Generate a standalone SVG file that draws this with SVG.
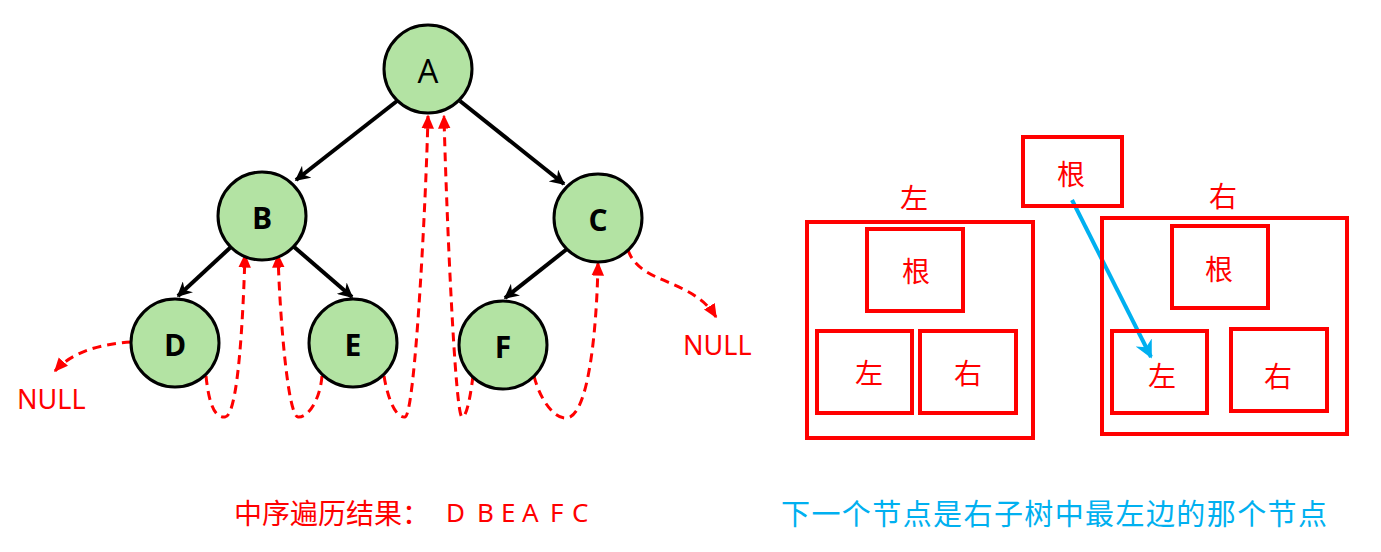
<svg xmlns="http://www.w3.org/2000/svg" width="1381" height="552" viewBox="0 0 1381 552">
<defs>
<marker id="ab" viewBox="0 0 10 10" refX="9" refY="5" markerWidth="15" markerHeight="15" markerUnits="userSpaceOnUse" orient="auto"><path d="M0,0 L10,5 L0,10 L3,5 Z" fill="#000"/></marker>
<marker id="ar" viewBox="0 0 10 10" refX="9" refY="5" markerWidth="14" markerHeight="14" markerUnits="userSpaceOnUse" orient="auto"><path d="M0,0.5 L10,5 L0,9.5 Z" fill="#ff0000"/></marker>
<marker id="abl" viewBox="0 0 10 10" refX="9" refY="5" markerWidth="18" markerHeight="18" markerUnits="userSpaceOnUse" orient="auto"><path d="M0,0 L10,5 L0,10 L3,5 Z" fill="#00b0f0"/></marker>
</defs>
<style>
.node circle{fill:#b3e3a3;stroke:#000;stroke-width:3}
.lt{font-family:"Open Sans","Noto Sans",sans-serif;font-size:30px;font-weight:bold;fill:#000;text-anchor:middle;dominant-baseline:central}
.e{fill:none;stroke:#000;stroke-width:4;marker-end:url(#ab)}
.d{fill:none;stroke:#ff0000;stroke-width:3;stroke-dasharray:9 6;marker-end:url(#ar)}
.box{fill:none;stroke:#ff0000;stroke-width:4}
.cj{font-family:"Noto Sans CJK SC",sans-serif;font-size:28px;fill:#ff0000;text-anchor:middle;dominant-baseline:central}
.nl{font-family:"Noto Sans",sans-serif;font-size:27px;fill:#ff0000}
</style>
<g id="connectors">
<path class="e" d="M397,101 L296,180"/>
<path class="e" d="M460,101 L564,184"/>
<path class="e" d="M232,246 L178,296"/>
<path class="e" d="M293,246 L352,297"/>
<path class="e" d="M567,249 L505,298"/>
<path class="d" d="M131,342 C100,344 72,352 55,371"/>
<path class="d" d="M206,376 C209,405 215,418 225,417 C238,416 243,320 245,255"/>
<path class="d" d="M322,376 C320,400 308,418 298,417 C288,416 280,320 278,255"/>
<path class="d" d="M384,376 C388,400 396,418 405,417 C415,416 426,200 428,116"/>
<path class="d" d="M473,376 C470,400 466,418 462,417 C455,416 446,200 444,116"/>
<path class="d" d="M534,376 C540,400 555,420 567,418 C590,415 597,320 598,263"/>
<path class="d" d="M628,250 C640,285 692,278 716,317"/>
<path fill="none" stroke="#00b0f0" stroke-width="4" marker-end="url(#abl)" d="M1072,200 L1151,357"/>
</g>
<g id="node-A" class="node"><circle cx="428" cy="69" r="44"/><text class="lt" x="428" y="70" style="font-weight:normal;font-size:33px">A</text></g>
<g id="node-B" class="node"><circle cx="262" cy="216" r="44"/><text class="lt" x="262" y="217">B</text></g>
<g id="node-C" class="node"><circle cx="598" cy="218" r="44"/><text class="lt" x="598" y="219">C</text></g>
<g id="node-D" class="node"><circle cx="175" cy="343" r="44"/><text class="lt" x="175" y="344">D</text></g>
<g id="node-E" class="node"><circle cx="353" cy="343" r="44"/><text class="lt" x="353" y="344">E</text></g>
<g id="node-F" class="node"><circle cx="503" cy="345" r="44"/><text class="lt" x="503" y="346">F</text></g>
<g id="null-1"><text class="nl" x="17" y="409">NULL</text></g>
<g id="null-2"><text class="nl" x="683" y="355">NULL</text></g>
<g id="root-box"><rect class="box" x="1023" y="137" width="99" height="69"/><text class="cj" x="1071" y="173">根</text></g>
<g id="label-left"><text class="cj" x="914" y="197">左</text></g>
<g id="label-right"><text class="cj" x="1223" y="195">右</text></g>
<g id="left-subtree">
<rect class="box" x="807" y="222" width="226" height="216"/>
<rect class="box" x="867" y="229" width="96" height="82"/><text class="cj" x="916" y="270">根</text>
<rect class="box" x="817" y="331" width="95" height="82"/><text class="cj" x="869" y="372">左</text>
<rect class="box" x="920" y="331" width="96" height="82"/><text class="cj" x="968" y="372">右</text>
</g>
<g id="right-subtree">
<rect class="box" x="1102" y="218" width="245" height="216"/>
<rect class="box" x="1172" y="226" width="96" height="82"/><text class="cj" x="1219" y="268">根</text>
<rect class="box" x="1112" y="331" width="95" height="82"/><text class="cj" x="1162" y="375">左</text>
<rect class="box" x="1231" y="329" width="96" height="82"/><text class="cj" x="1278" y="375">右</text>
</g>
<g id="caption-left"><text x="234" y="512" style="font-family:'Noto Sans CJK SC',sans-serif;font-size:28px;fill:#ff0000;dominant-baseline:central">中序遍历结果：</text><text x="446 467 477 492 501 515 522 543 550 563 572" y="512" style="font-family:'Noto Sans',sans-serif;font-size:26px;fill:#ff0000;dominant-baseline:central">D B E A F C</text></g>
<g id="caption-right"><text x="781" y="512" textLength="546" lengthAdjust="spacing" style="font-family:'Noto Sans CJK SC',sans-serif;font-size:29px;fill:#00b0f0;dominant-baseline:central">下一个节点是右子树中最左边的那个节点</text></g>
</svg>
